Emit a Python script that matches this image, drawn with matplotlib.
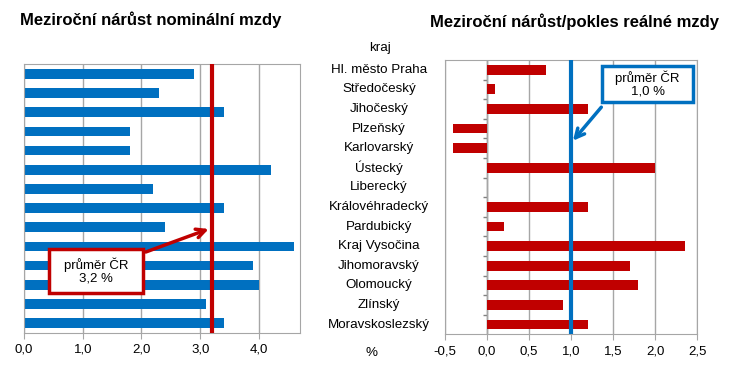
import numpy as np
import matplotlib
matplotlib.use("Agg")
import matplotlib.pyplot as plt
from matplotlib.patches import Rectangle
from matplotlib.transforms import blended_transform_factory
from matplotlib.ticker import FuncFormatter

plt.rcParams['font.family'] = ['Liberation Sans', 'DejaVu Sans']

# data
kraje = ["Hl. město Praha", "Středočeský", "Jihočeský", "Plzeňský", "Karlovarský",
         "Ústecký", "Liberecký", "Královéhradecký", "Pardubický", "Kraj Vysočina",
         "Jihomoravský", "Olomoucký", "Zlínský", "Moravskoslezský"]
nominalni = [2.9, 2.3, 3.4, 1.8, 1.8, 4.2, 2.2, 3.4, 2.4, 4.6, 3.9, 4.0, 3.1, 3.4]
realna = [0.7, 0.1, 1.2, -0.4, -0.4, 2.0, 0.0, 1.2, 0.2, 2.35, 1.7, 1.8, 0.9, 1.2]
prumer_nom = 3.2
prumer_real = 1.0

BLUE = "#0070C0"
RED = "#C00000"
GRID = "#A6A6A6"
W, H = 730, 377

def comma(v, pos):
    return f"{v:.1f}".replace(".", ",")

fig = plt.figure(figsize=(W / 100, H / 100), dpi=100)

def px_axes(x0, y0, x1, y1):
    return fig.add_axes([x0 / W, 1 - y1 / H, (x1 - x0) / W, (y1 - y0) / H])

y = np.arange(len(kraje))

# ---- levy graf: nominalni mzda
ax1 = px_axes(24, 64.3, 300, 332.7)
ax1.barh(y, nominalni, height=0.5, color=BLUE, zorder=2)
ax1.set_xlim(0, 4.7)
ax1.set_ylim(len(kraje) - 0.5, -0.5)
ax1.set_xticks([0, 1, 2, 3, 4])
ax1.xaxis.set_major_formatter(FuncFormatter(comma))
ax1.set_yticks([])
ax1.grid(axis="x", color=GRID, lw=1, zorder=0)
for s in ax1.spines.values():
    s.set_color(GRID)
ax1.tick_params(axis="x", length=4, color=GRID, labelsize=9.5, pad=4)
ax1.axvline(prumer_nom, color=RED, lw=3, zorder=3)
ax1.add_patch(Rectangle((0.43, 9.12), 1.6, 2.29, facecolor="white", edgecolor=RED,
                        lw=2.5, zorder=4))
ax1.text(1.23, 10.27, "průměr ČR\n3,2 %", ha="center", va="center", fontsize=9.5,
         zorder=5, linespacing=1.1)
ax1.annotate("", xy=(3.19, 8.04), xytext=(2.03, 9.34),
             arrowprops=dict(arrowstyle="->", color=RED, lw=2.5,
                             mutation_scale=16), zorder=5)
fig.text(20 / W, 1 - 20 / H, "Meziroční nárůst nominální mzdy", fontsize=12,
         fontweight="bold", va="center", ha="left")

# ---- pravy graf: realna mzda
ax2 = px_axes(445, 60, 697.3, 334.3)
ax2.barh(y, realna, height=0.5, color=RED, zorder=2)
ax2.set_xlim(-0.5, 2.5)
ax2.set_ylim(len(kraje) - 0.5, -0.5)
ax2.set_xticks(np.arange(-0.5, 2.51, 0.5))
ax2.xaxis.set_major_formatter(FuncFormatter(comma))
ax2.set_yticks([])
ax2.grid(axis="x", color=GRID, lw=1, zorder=0)
for s in ax2.spines.values():
    s.set_color(GRID)
ax2.tick_params(axis="x", length=4, color=GRID, labelsize=9.5, pad=4)
ax2.axvline(0, color="#808080", lw=1, zorder=1)
ax2.hlines(y[:-1] + 0.5, -0.05, 0, color="#808080", lw=1, zorder=1)
ax2.axvline(prumer_real, color=BLUE, lw=3, zorder=3)
ax2.add_patch(Rectangle((1.37, -0.21), 1.08, 1.87, facecolor="white", edgecolor=BLUE,
                        lw=2.5, zorder=4, clip_on=False))
ax2.text(1.91, 0.72, "průměr ČR\n1,0 %", ha="center", va="center", fontsize=9.5,
         zorder=5, linespacing=1.1)
ax2.annotate("", xy=(1.0, 3.73), xytext=(1.38, 1.8),
             arrowprops=dict(arrowstyle="->", color=BLUE, lw=2.5,
                             mutation_scale=16), zorder=5)

tr = blended_transform_factory(fig.transFigure, ax2.transData)
for i, k in enumerate(kraje):
    ax2.text(379 / W, i, k, transform=tr, ha="center", va="center", fontsize=9.6,
             clip_on=False)
fig.text(380 / W, 1 - 48 / H, "kraj", ha="center", va="center", fontsize=9.6)
fig.text(372 / W, 1 - 353 / H, "%", ha="center", va="center", fontsize=9.6)
fig.text(430 / W, 1 - 22 / H, "Meziroční nárůst/pokles reálné mzdy", fontsize=12,
         fontweight="bold", va="center", ha="left")

fig.savefig("out.png", dpi=100)
